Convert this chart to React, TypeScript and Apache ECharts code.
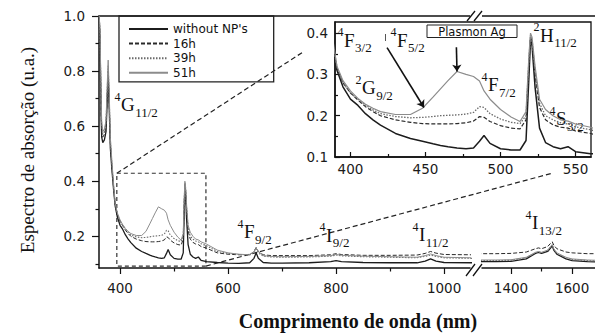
import React, { useEffect, useRef } from 'react';
import * as echarts from 'echarts';

// ---------- data (nm, absorbance u.a.) ----------
const WAVELENGTH = [
  361, 363, 364, 365, 366, 368, 371, 374, 376, 378,
  380, 382, 385, 388, 391, 395, 400, 405, 410, 415,
  420, 430, 440, 448, 455, 460, 465, 471, 477, 482,
  486, 489, 493, 500, 507, 513, 517, 519, 520, 521,
  523, 526, 530, 535, 540, 545, 550, 560, 580, 600,
  620, 640, 648, 652, 656, 665, 680, 700, 750, 790,
  800, 810, 850, 900, 950, 965, 975, 985, 1000, 1050,
  1100, 1300, 1350, 1400, 1450, 1480, 1490, 1500, 1520, 1530,
  1535, 1540, 1550, 1580, 1600, 1650, 1680,
];
const WITHOUT_NP = [
  1.02, 0.9, 0.76, 0.63, 0.56, 0.54, 0.55, 0.58, 0.68, 0.78,
  0.66, 0.52, 0.44, 0.37, 0.31, 0.27, 0.24, 0.225, 0.205, 0.19,
  0.177, 0.157, 0.145, 0.138, 0.132, 0.128, 0.125, 0.122, 0.12, 0.122,
  0.138, 0.152, 0.133, 0.12, 0.117, 0.117, 0.14, 0.3, 0.385, 0.37,
  0.27, 0.17, 0.135, 0.125, 0.12, 0.125, 0.113, 0.108, 0.105, 0.103,
  0.102, 0.104, 0.12, 0.14, 0.12, 0.105, 0.103, 0.103, 0.104, 0.108,
  0.112, 0.108, 0.105, 0.104, 0.104, 0.11, 0.118, 0.11, 0.105, 0.104,
  0.104, 0.108, 0.108, 0.109, 0.118, 0.138, 0.142, 0.138, 0.145, 0.158,
  0.165, 0.15, 0.135, 0.118, 0.112, 0.108, 0.107,
];
const H16 = [
  1.02, 0.92, 0.78, 0.65, 0.58, 0.56, 0.57, 0.6, 0.7, 0.8,
  0.68, 0.54, 0.45, 0.38, 0.315, 0.28, 0.255, 0.238, 0.222, 0.21,
  0.2, 0.19, 0.184, 0.181, 0.18, 0.18, 0.18, 0.181, 0.183, 0.187,
  0.198, 0.196, 0.186, 0.176, 0.17, 0.168, 0.19, 0.33, 0.39, 0.38,
  0.3, 0.22, 0.19, 0.178, 0.172, 0.17, 0.163, 0.157, 0.14, 0.135,
  0.133, 0.133, 0.145, 0.16, 0.145, 0.133, 0.13, 0.13, 0.13, 0.133,
  0.137, 0.134, 0.131, 0.131, 0.132, 0.138, 0.145, 0.139, 0.134, 0.133,
  0.133, 0.137, 0.137, 0.138, 0.143, 0.155, 0.158, 0.155, 0.163, 0.175,
  0.18, 0.168, 0.155, 0.143, 0.14, 0.137, 0.137,
];
const H39 = [
  1.02, 0.93, 0.8, 0.67, 0.6, 0.57, 0.58, 0.61, 0.72, 0.82,
  0.7, 0.55, 0.46, 0.38, 0.318, 0.28, 0.255, 0.24, 0.226, 0.214,
  0.205, 0.198, 0.195, 0.196, 0.198, 0.2, 0.201, 0.202, 0.204, 0.208,
  0.222, 0.22, 0.205, 0.192, 0.184, 0.181, 0.2, 0.34, 0.395, 0.385,
  0.31, 0.23, 0.2, 0.19, 0.183, 0.18, 0.173, 0.166, 0.145, 0.138,
  0.134, 0.132, 0.142, 0.155, 0.14, 0.128, 0.125, 0.124, 0.125, 0.128,
  0.132, 0.129, 0.126, 0.124, 0.122, 0.127, 0.132, 0.127, 0.122, 0.12,
  0.12, 0.112, 0.112, 0.113, 0.122, 0.14, 0.143, 0.14, 0.148, 0.162,
  0.168, 0.153, 0.138, 0.122, 0.116, 0.112, 0.111,
];
const H51 = [
  1.02, 0.94, 0.82, 0.69, 0.62, 0.58, 0.59, 0.62, 0.74, 0.84,
  0.72, 0.56, 0.47, 0.39, 0.32, 0.285, 0.26, 0.242, 0.228, 0.218,
  0.21, 0.203, 0.203, 0.218, 0.245, 0.265, 0.285, 0.307, 0.3, 0.295,
  0.284, 0.26, 0.24, 0.215, 0.197, 0.186, 0.21, 0.35, 0.4, 0.39,
  0.32, 0.24, 0.215, 0.2, 0.19, 0.187, 0.18, 0.172, 0.15, 0.14,
  0.135, 0.133, 0.145, 0.158, 0.145, 0.13, 0.127, 0.126, 0.127, 0.13,
  0.134, 0.131, 0.128, 0.126, 0.124, 0.13, 0.136, 0.13, 0.124, 0.122,
  0.122, 0.114, 0.114, 0.115, 0.124, 0.142, 0.145, 0.142, 0.15, 0.164,
  0.17, 0.155, 0.14, 0.124, 0.118, 0.114, 0.113,
];
const SERIES_NAMES = ["without NP's", '16h', '39h', '51h'];
const SERIES_VALUES = [WITHOUT_NP, H16, H39, H51];

const MAIN_X_LABELS = [400, 600, 800, 1000];
const MAIN_X_MINOR = [500, 700, 900];
const NIR_X_LABELS = [1400, 1600];
const NIR_X_MINOR = [1500];
const MAIN_Y_LABELS = [0.2, 0.4, 0.6, 0.8, 1.0];
const MAIN_Y_MINOR = [0.1, 0.3, 0.5, 0.7, 0.9];
const INSET_X_LABELS = [400, 450, 500, 550];
const INSET_X_MINOR = [425, 475, 525];
const INSET_Y_LABELS = [0.1, 0.2, 0.3, 0.4];
const INSET_Y_MINOR = [0.15, 0.25, 0.35];

const ZOOM_BOX_X = [394, 559];
const ZOOM_BOX_Y = [0.092, 0.429];
const ARROWS = [
  [[424.4, 0.365], [449, 0.22]],
  [[470.6, 0.366], [471, 0.307]],
];

// ---------- styles / layout ----------
const INK = '#111';
const SANS = "'DejaVu Sans', 'Liberation Sans', sans-serif";
const SERIF = "'Liberation Serif', 'Times New Roman', serif";
const LINE_STYLES: any[] = [
  { color: '#1c1c1c', width: 1.3, type: 'solid' },
  { color: '#2a2a2a', width: 1, type: [4, 2] },
  { color: '#6a6a6a', width: 1.1, type: [1.5, 1.5] },
  { color: '#8c8c8c', width: 1, type: 'solid' },
];
const G0 = { left: 99, top: 16, width: 371, height: 252 };
const G1 = { left: 482, top: 16, width: 113, height: 252 };
const G2 = { left: 335, top: 22, width: 256, height: 135 };
const X0 = [361, 1048];
const X1 = [1305, 1675];
const X2 = [389.7, 560.3];
const Y0 = [0.085, 1.0];
const Y2 = [0.1, 0.427];

const LETTER_W: Record<string, number> = { G: 0.722, F: 0.556, I: 0.333, H: 0.722, S: 0.556 };
const TERMS = [
  { sup: '4', letter: 'G', sub: '11/2', x: 121, y: 104.5 },
  { sup: '4', letter: 'F', sub: '9/2', x: 244, y: 231.5 },
  { sup: '4', letter: 'I', sub: '9/2', x: 326, y: 235 },
  { sup: '4', letter: 'I', sub: '11/2', x: 419, y: 234.5 },
  { sup: '4', letter: 'I', sub: '13/2', x: 532, y: 222.5 },
  { sup: '4', letter: 'F', sub: '3/2', x: 344, y: 40 },
  { sup: '4', letter: 'F', sub: '5/2', x: 397, y: 40 },
  { sup: '2', letter: 'G', sub: '9/2', x: 362, y: 87.5 },
  { sup: '4', letter: 'F', sub: '7/2', x: 488, y: 84.5 },
  { sup: '2', letter: 'H', sub: '11/2', x: 540, y: 35 },
  { sup: '4', letter: 'S', sub: '3/2', x: 556, y: 118.5 },
];

const tickLabel = { fontFamily: SANS, fontSize: 13.5, color: '#1a1a1a' };
const axisLineStyle = { color: INK, width: 1.5 };
const fmt1 = (v: number) => v.toFixed(1);
const fmt0 = (v: number) => String(Math.round(v));

function xMajor(gridIndex: number, range: number[], labels: number[], inside: boolean, margin: number, len: number) {
  return {
    type: 'value', gridIndex, position: 'bottom', min: range[0], max: range[1],
    axisLine: { show: true, onZero: false, lineStyle: axisLineStyle },
    axisTick: { show: true, inside, length: len, customValues: labels, lineStyle: { color: INK, width: 1.2 } },
    axisLabel: { show: true, customValues: labels, margin, formatter: fmt0, ...tickLabel },
    splitLine: { show: false },
  };
}
function xMinor(gridIndex: number, range: number[], ticks: number[], inside: boolean, len: number) {
  return {
    type: 'value', gridIndex, position: 'bottom', min: range[0], max: range[1],
    axisLine: { show: false, onZero: false },
    axisTick: { show: true, inside, length: len, customValues: ticks, lineStyle: { color: INK, width: 1.2 } },
    axisLabel: { show: false }, splitLine: { show: false },
  };
}
function yMajor(gridIndex: number, range: number[], labels: number[], inside: boolean, margin: number, len: number) {
  return {
    type: 'value', gridIndex, position: 'left', min: range[0], max: range[1],
    axisLine: { show: true, onZero: false, lineStyle: axisLineStyle },
    axisTick: { show: true, inside, length: len, customValues: labels, lineStyle: { color: INK, width: 1.2 } },
    axisLabel: { show: true, customValues: labels, margin, formatter: fmt1, ...tickLabel },
    splitLine: { show: false },
  };
}
function yMinor(gridIndex: number, range: number[], ticks: number[], inside: boolean, len: number) {
  return {
    type: 'value', gridIndex, position: 'left', min: range[0], max: range[1],
    axisLine: { show: false, onZero: false },
    axisTick: { show: true, inside, length: len, customValues: ticks, lineStyle: { color: INK, width: 1.2 } },
    axisLabel: { show: false }, splitLine: { show: false },
  };
}

function buildOption() {
  const gridAxes = [
    { x: 0, y: 0 },
    { x: 2, y: 2 },
    { x: 4, y: 3 },
  ];
  const series: any[] = [];
  gridAxes.forEach((g, gi) => {
    SERIES_VALUES.forEach((vals, si) => {
      const s: any = {
        type: 'line', name: SERIES_NAMES[si], xAxisIndex: g.x, yAxisIndex: g.y,
        data: WAVELENGTH.map((w, i) => [w, vals[i]]),
        symbol: 'none', showSymbol: false, clip: true, silent: true,
        lineStyle: { ...LINE_STYLES[si], width: LINE_STYLES[si].width + (gi === 2 ? 0.2 : 0) },
        itemStyle: { color: LINE_STYLES[si].color },
        emphasis: { disabled: true },
      };
      if (gi === 0 && si === 0) {
        s.markArea = {
          silent: true, label: { show: false },
          itemStyle: { color: 'rgba(0,0,0,0)', borderColor: '#333', borderWidth: 1.2, borderType: [4, 3] },
          data: [[{ coord: [ZOOM_BOX_X[0], ZOOM_BOX_Y[1]] }, { coord: [ZOOM_BOX_X[1], ZOOM_BOX_Y[0]] }]],
        };
      }
      if (gi === 2 && si === 3) {
        s.markLine = {
          silent: true, symbol: ['none', 'arrow'], symbolSize: 7, label: { show: false },
          lineStyle: { color: INK, width: 1.6, type: 'solid' },
          emphasis: { disabled: true },
          data: ARROWS.map((a) => [{ coord: a[0] }, { coord: a[1] }]),
        };
      }
      series.push(s);
    });
  });

  return {
    animation: false,
    backgroundColor: '#fff',
    grid: [
      { ...G0, outerBoundsMode: 'none', containLabel: false },
      { ...G1, outerBoundsMode: 'none', containLabel: false },
      { ...G2, outerBoundsMode: 'none', containLabel: false, show: true, borderColor: INK, borderWidth: 1.3, backgroundColor: 'rgba(255,255,255,0)' },
    ],
    xAxis: [
      xMajor(0, X0, MAIN_X_LABELS, false, 13, 6),
      xMinor(0, X0, MAIN_X_MINOR, false, 3.5),
      xMajor(1, X1, NIR_X_LABELS, false, 13, 6),
      xMinor(1, X1, NIR_X_MINOR, false, 3.5),
      xMajor(2, X2, INSET_X_LABELS, true, 5, 5),
      xMinor(2, X2, INSET_X_MINOR, true, 3),
    ],
    yAxis: [
      yMajor(0, Y0, MAIN_Y_LABELS, false, 14, 7),
      yMinor(0, Y0, MAIN_Y_MINOR, false, 3.5),
      { type: 'value', gridIndex: 1, min: Y0[0], max: Y0[1], show: false },
      yMajor(2, Y2, INSET_Y_LABELS, true, 7, 5),
      yMinor(2, Y2, INSET_Y_MINOR, true, 3),
    ],
    legend: {
      show: true, data: SERIES_NAMES, orient: 'vertical', left: 119, top: 16,
      itemWidth: 39, itemHeight: 12, itemGap: 2.6, padding: [7, 26, 3, 9],
      borderColor: '#222', borderWidth: 1.3, backgroundColor: 'rgba(0,0,0,0)',
      selectedMode: false,
      itemStyle: { opacity: 0 },
      textStyle: { fontFamily: SANS, fontSize: 12, color: INK },
    },
    series,
  };
}

function termElements() {
  const out: any[] = [];
  TERMS.forEach((t) => {
    const mainSize = 19;
    const w = (LETTER_W[t.letter] || 0.6) * mainSize;
    out.push({ type: 'text', x: t.x - 0.5, y: t.y - 8, style: { text: t.sup, fontFamily: SERIF, fontSize: 12, fill: INK, align: 'right', verticalAlign: 'middle' } });
    out.push({ type: 'text', x: t.x, y: t.y, style: { text: t.letter, fontFamily: SERIF, fontSize: mainSize, fill: INK, align: 'left', verticalAlign: 'middle' } });
    out.push({ type: 'text', x: t.x + w + 0.5, y: t.y + 7.5, style: { text: t.sub, fontFamily: SERIF, fontSize: 13, fill: INK, align: 'left', verticalAlign: 'middle' } });
  });
  return out;
}

function buildGraphics(tl: number[], br: number[]) {
  const frame = { stroke: INK, lineWidth: 1.5 };
  const brk = { stroke: INK, lineWidth: 1.3 };
  const dash = { stroke: '#222', lineWidth: 1.2, lineDash: [5, 3], fill: null };
  const els: any[] = [
    { type: 'line', shape: { x1: G0.left, y1: G0.top, x2: G0.left + G0.width, y2: G0.top }, style: frame },
    { type: 'line', shape: { x1: G1.left, y1: G1.top, x2: G1.left + G1.width, y2: G1.top }, style: frame },
    { type: 'line', shape: { x1: 467, y1: 21, x2: 475, y2: 11 }, style: brk },
    { type: 'line', shape: { x1: 474, y1: 21, x2: 482, y2: 11 }, style: brk },
    { type: 'line', shape: { x1: 466, y1: 276, x2: 475, y2: 264 }, style: brk },
    { type: 'line', shape: { x1: 473, y1: 276, x2: 482, y2: 264 }, style: brk },
    { type: 'polyline', shape: { points: [tl, [303, 52]] }, style: dash },
    { type: 'polyline', shape: { points: [br, [553, 173]] }, style: dash },
    { type: 'rect', shape: { x: 427, y: 25, width: 90, height: 12.5 }, style: { fill: '#fff', stroke: '#222', lineWidth: 1 } },
    { type: 'text', x: 472, y: 31.5, style: { text: 'Plasmon Ag', fontFamily: SANS, fontSize: 11.5, fill: INK, align: 'center', verticalAlign: 'middle' } },
    { type: 'line', shape: { x1: 385.5, y1: 34, x2: 385.5, y2: 41 }, style: { stroke: '#555', lineWidth: 1 } },
    { type: 'text', x: 27, y: 150, rotation: Math.PI / 2, style: { text: 'Espectro de absorção (u.a.)', fontFamily: SERIF, fontSize: 19, fill: INK, align: 'center', verticalAlign: 'middle' } },
    { type: 'text', x: 358, y: 321, style: { text: 'Comprimento de onda (nm)', fontFamily: SERIF, fontSize: 20, fontWeight: 'bold', fill: INK, align: 'center', verticalAlign: 'middle' } },
    ...termElements(),
  ];
  return els;
}

export default function App() {
  const ref = useRef<HTMLDivElement>(null);
  useEffect(() => {
    if (!ref.current) return;
    const chart = echarts.init(ref.current, null, { renderer: 'svg' });
    chart.setOption(buildOption() as any);
    let tl: any = chart.convertToPixel({ seriesIndex: 0 } as any, [ZOOM_BOX_X[0], ZOOM_BOX_Y[1]]);
    let br: any = chart.convertToPixel({ seriesIndex: 0 } as any, [ZOOM_BOX_X[1], ZOOM_BOX_Y[0]]);
    if (!tl || !br) { tl = [116, 173]; br = [206, 266]; }
    chart.setOption({ graphic: buildGraphics(tl, br) } as any);
    return () => chart.dispose();
  }, []);
  return <div ref={ref} style={{ position: 'fixed', left: 0, top: 0, width: 595, height: 335, background: '#fff' }} />;
}
